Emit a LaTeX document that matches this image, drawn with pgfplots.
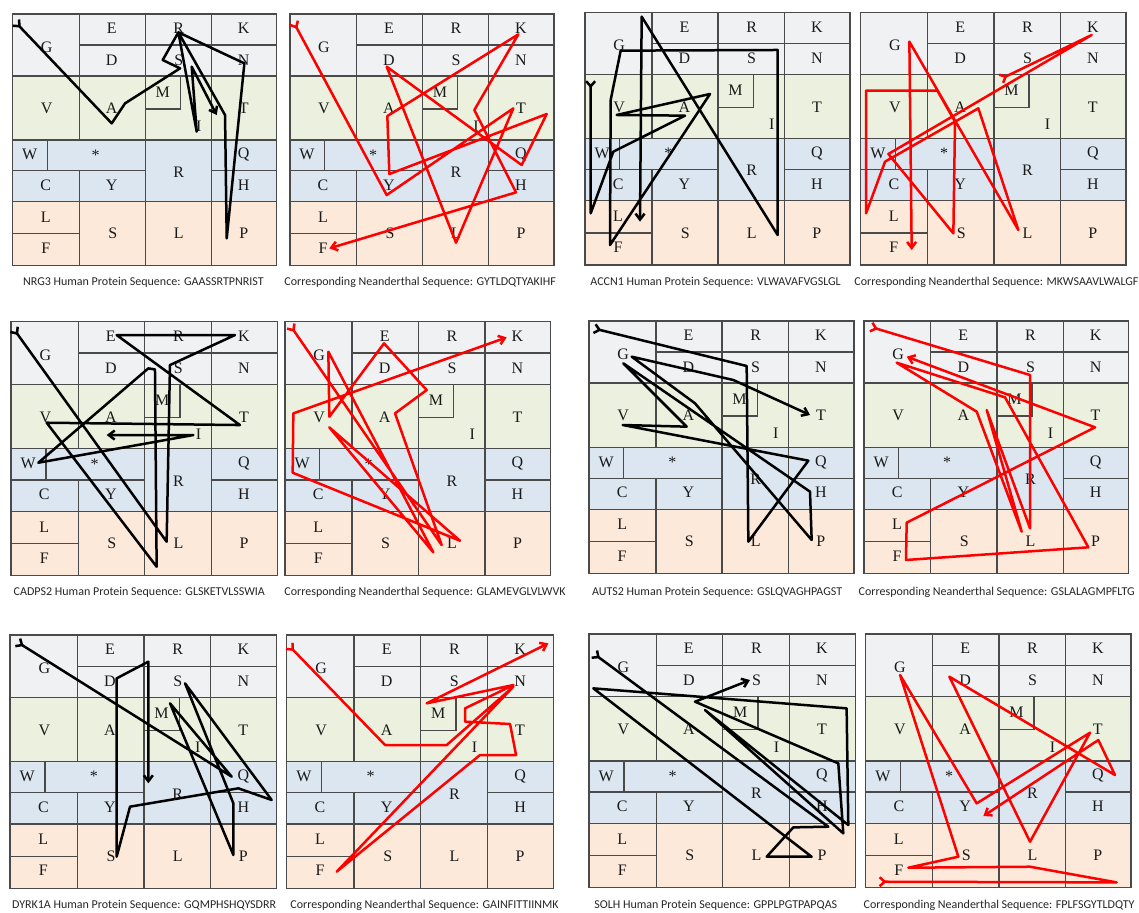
\documentclass[border=0pt]{standalone}
\usepackage{pgfplots}
\pgfplotsset{compat=1.18}
\usetikzlibrary{arrows.meta}
\usepackage{fontspec}
\setmainfont{Liberation Serif}
\newfontfamily\capfont{Carlito}
\newfontfamily\letfont{Liberation Serif}
\definecolor{cgray}{HTML}{F0F1F3}
\definecolor{cgreen}{HTML}{EBF1DE}
\definecolor{cblue}{HTML}{DCE6F1}
\definecolor{corange}{HTML}{FDE9D9}
\definecolor{cline}{HTML}{4A4A4A}
\pgfplotsset{
  panel/.style={scale only axis, hide axis, y dir=reverse, clip=false, anchor=north west},
  hum/.style={black, line width=1.25pt, line join=round,
    {Straight Barb[reversed,length=2.5pt,width=4.5pt]}-{Straight Barb[length=3pt,width=4.5pt]}},
  nea/.style={hum, red},
}
\tikzset{gl/.style={cline, line width=0.65pt},
  lt/.style={font=\letfont\fontsize{8}{9}\selectfont, inner sep=0pt, text=black!90}}
\newcommand{\grid}{%
 \fill[cgray] (rel axis cs:0,0.754) rectangle (rel axis cs:1,1);
 \fill[cgreen] (rel axis cs:0,0.5) rectangle (rel axis cs:1,0.754);
 \fill[cblue] (rel axis cs:0,0.254) rectangle (rel axis cs:1,0.5);
 \fill[corange] (rel axis cs:0,0) rectangle (rel axis cs:1,0.254);
 \draw[gl] (rel axis cs:0,0) rectangle (rel axis cs:1,1);
 \draw[gl] (rel axis cs:0,0.754) -- (rel axis cs:1,0.754);
 \draw[gl] (rel axis cs:0,0.5) -- (rel axis cs:1,0.5);
 \draw[gl] (rel axis cs:0,0.254) -- (rel axis cs:1,0.254);
 \draw[gl] (rel axis cs:0.2523,0.877) -- (rel axis cs:1,0.877);
 \draw[gl] (rel axis cs:0,0.377) -- (rel axis cs:0.5023,0.377);
 \draw[gl] (rel axis cs:0.7523,0.377) -- (rel axis cs:1,0.377);
 \draw[gl] (rel axis cs:0,0.127) -- (rel axis cs:0.2523,0.127);
 \draw[gl] (rel axis cs:0.2523,1) -- (rel axis cs:0.2523,0.5);
 \draw[gl] (rel axis cs:0.2523,0.377) -- (rel axis cs:0.2523,0);
 \draw[gl] (rel axis cs:0.1311,0.5) -- (rel axis cs:0.1311,0.377);
 \draw[gl] (rel axis cs:0.5023,0) -- (rel axis cs:0.5023,1);
 \draw[gl] (rel axis cs:0.7523,0) -- (rel axis cs:0.7523,1);
 \draw[gl] (rel axis cs:0.5023,0.754) rectangle (rel axis cs:0.6348,0.623);
 \node[lt] at (rel axis cs:0.1288,0.869) {G};
 \node[lt] at (rel axis cs:0.375,0.9425) {E};
 \node[lt] at (rel axis cs:0.375,0.8175) {D};
 \node[lt] at (rel axis cs:0.6288,0.9425) {R};
 \node[lt] at (rel axis cs:0.6288,0.8175) {S};
 \node[lt] at (rel axis cs:0.875,0.9425) {K};
 \node[lt] at (rel axis cs:0.875,0.8175) {N};
 \node[lt] at (rel axis cs:0.1288,0.625) {V};
 \node[lt] at (rel axis cs:0.375,0.625) {A};
 \node[lt] at (rel axis cs:0.5682,0.6905) {M};
 \node[lt] at (rel axis cs:0.7045,0.5556) {I};
 \node[lt] at (rel axis cs:0.875,0.625) {T};
 \node[lt] at (rel axis cs:0.0644,0.4405) {W};
 \node[lt] at (rel axis cs:0.3144,0.4405) {*};
 \node[lt] at (rel axis cs:0.6288,0.373) {R};
 \node[lt] at (rel axis cs:0.875,0.4405) {Q};
 \node[lt] at (rel axis cs:0.125,0.3214) {C};
 \node[lt] at (rel axis cs:0.375,0.3214) {Y};
 \node[lt] at (rel axis cs:0.875,0.3214) {H};
 \node[lt] at (rel axis cs:0.125,0.1925) {L};
 \node[lt] at (rel axis cs:0.125,0.0694) {F};
 \node[lt] at (rel axis cs:0.3788,0.127) {S};
 \node[lt] at (rel axis cs:0.6288,0.127) {L};
 \node[lt] at (rel axis cs:0.875,0.127) {P};
}
\newcommand{\capt}[3]{\node[anchor=west, inner sep=0pt, font=\capfont\fontsize{6}{7}\selectfont, text=black!85] at (#1pt,#2pt) {#3};}
\begin{document}
\begin{tikzpicture}
\useasboundingbox (0,0) rectangle (569.5pt,-456pt);
\fill[white] (0,0) rectangle (569.5pt,-456pt);
% Row 1
\begin{axis}[panel, at={(6.35pt,-7pt)}, width=132pt, height=125.85pt, xmin=38, xmax=830, ymin=42, ymax=797]
\grid
\addplot[hum] coordinates {(45,65) (335,370) (375,310) (540,205) (488,180) (535,97) (675,345) (680,715) (733,190) (535,97) (590,395) (575,200) (650,345)};
\end{axis}
\begin{axis}[panel, at={(145pt,-7pt)}, width=132pt, height=125.85pt, xmin=30, xmax=822, ymin=42, ymax=797]
\grid
\addplot[nea] coordinates {(40,65) (320,585) (700,325) (528,728) (320,200) (725,495) (800,342) (328,522) (322,348) (715,103) (583,330) (708,577) (148,745)};
\end{axis}
\begin{axis}[panel, at={(292.5pt,-6.15pt)}, width=132.5pt, height=126.35pt, xmin=15, xmax=810, ymin=37, ymax=795]
\grid
\addplot[hum] coordinates {(32,240) (32,640) (100,455) (315,347) (110,345) (390,282) (90,735) (92,300) (122,152) (593,150) (593,705) (185,50) (180,665)};
\end{axis}
\begin{axis}[panel, at={(430.35pt,-6.15pt)}, width=132.65pt, height=126.35pt, xmin=32, xmax=828, ymin=37, ymax=795]
\grid
\addplot[nea] coordinates {(450,238) (725,105) (115,462) (310,700) (315,365) (262,272) (48,272) (48,640) (105,485) (385,325) (505,690) (178,125) (185,750)};
\end{axis}
% Row 2
\begin{axis}[panel, at={(5.5pt,-160.85pt)}, width=133.15pt, height=127pt, xmin=33, xmax=832, ymin=35, ymax=797]
\grid
\addplot[hum] coordinates {(40,55) (500,695) (510,165) (705,75) (350,75) (720,345) (140,338) (470,770) (465,178) (445,175) (115,458) (580,375) (320,375)};
\end{axis}
\begin{axis}[panel, at={(142.5pt,-160.85pt)}, width=132.85pt, height=127pt, xmin=15, xmax=812, ymin=35, ymax=797]
\grid
\addplot[nea] coordinates {(30,45) (485,705) (345,310) (440,240) (312,100) (148,320) (145,125) (460,727) (148,352) (540,692) (38,488) (40,310) (680,82)};
\end{axis}
\begin{axis}[panel, at={(294.5pt,-160.5pt)}, width=132.5pt, height=126.15pt, xmin=27, xmax=822, ymin=33, ymax=790]
\grid
\addplot[hum] coordinates {(40,55) (500,168) (505,695) (685,452) (128,345) (320,350) (130,160) (690,545) (695,690) (345,280) (155,140) (460,210) (690,315)};
\end{axis}
\begin{axis}[panel, at={(432pt,-160.5pt)}, width=132.35pt, height=126.15pt, xmin=42, xmax=836, ymin=33, ymax=790]
\grid
\addplot[nea] coordinates {(60,50) (540,195) (540,655) (410,300) (515,665) (380,305) (140,158) (465,262) (715,712) (168,750) (170,638) (735,352) (170,140)};
\end{axis}
% Row 3
\begin{axis}[panel, at={(5pt,-317.5pt)}, width=133.35pt, height=126.65pt, xmin=30, xmax=830, ymin=45, ymax=805]
\grid
\addplot[hum] coordinates {(50,65) (695,470) (510,250) (700,705) (700,550) (555,190) (815,540) (715,505) (390,560) (350,710) (350,175) (445,125) (445,490)};
\end{axis}
\begin{axis}[panel, at={(143.35pt,-317.5pt)}, width=133.35pt, height=126.65pt, xmin=20, xmax=820, ymin=45, ymax=805]
\grid
\addplot[nea] coordinates {(25,75) (315,375) (500,375) (700,200) (170,755) (600,405) (708,405) (690,312) (555,305) (555,265) (700,195) (440,250) (805,70)};
\end{axis}
\begin{axis}[panel, at={(294.5pt,-317pt)}, width=133.15pt, height=126.85pt, xmin=27, xmax=826, ymin=42, ymax=803]
\grid
\addplot[hum] coordinates {(40,100) (745,620) (640,622) (560,710) (695,710) (40,205) (800,265) (805,615) (375,270) (790,640) (775,430) (345,245) (510,180)};
\end{axis}
\begin{axis}[panel, at={(432.85pt,-317pt)}, width=132.65pt, height=126.85pt, xmin=47, xmax=843, ymin=42, ymax=803]
\grid
\addplot[nea] coordinates {(85,785) (800,787) (540,740) (175,743) (325,710) (150,165) (380,550) (720,338) (540,665) (298,170) (795,465) (745,360) (400,588)};
\end{axis}
% Captions
\capt{11.35}{-141.15}{NRG3 Human Protein Sequence: GAASSRTPNRIST}
\capt{142}{-141.15}{Corresponding Neanderthal Sequence: GYTLDQTYAKIHF}
\capt{295}{-141.15}{ACCN1 Human Protein Sequence: VLWAVAFVGSLGL}
\capt{427}{-141.15}{Corresponding Neanderthal Sequence: MKWSAAVLWALGF}
\capt{6.65}{-296.35}{CADPS2 Human Protein Sequence: GLSKETVLSSWIA}
\capt{142}{-296.35}{Corresponding Neanderthal Sequence: GLAMEVGLVLWVK}
\capt{295.85}{-296.35}{AUTS2 Human Protein Sequence: GSLQVAGHPAGST}
\capt{429.15}{-296.35}{Corresponding Neanderthal Sequence: GSLALAGMPFLTG}
\capt{5.85}{-452.85}{DYRK1A Human Protein Sequence: GQMPHSHQYSDRR}
\capt{145}{-452.85}{Corresponding Neanderthal Sequence: GAINFITTIINMK}
\capt{297}{-452.85}{SOLH Human Protein Sequence: GPPLPGTPAPQAS}
\capt{431.65}{-452.85}{Corresponding Neanderthal Sequence: FPLFSGYTLDQTY}
\end{tikzpicture}
\end{document}
